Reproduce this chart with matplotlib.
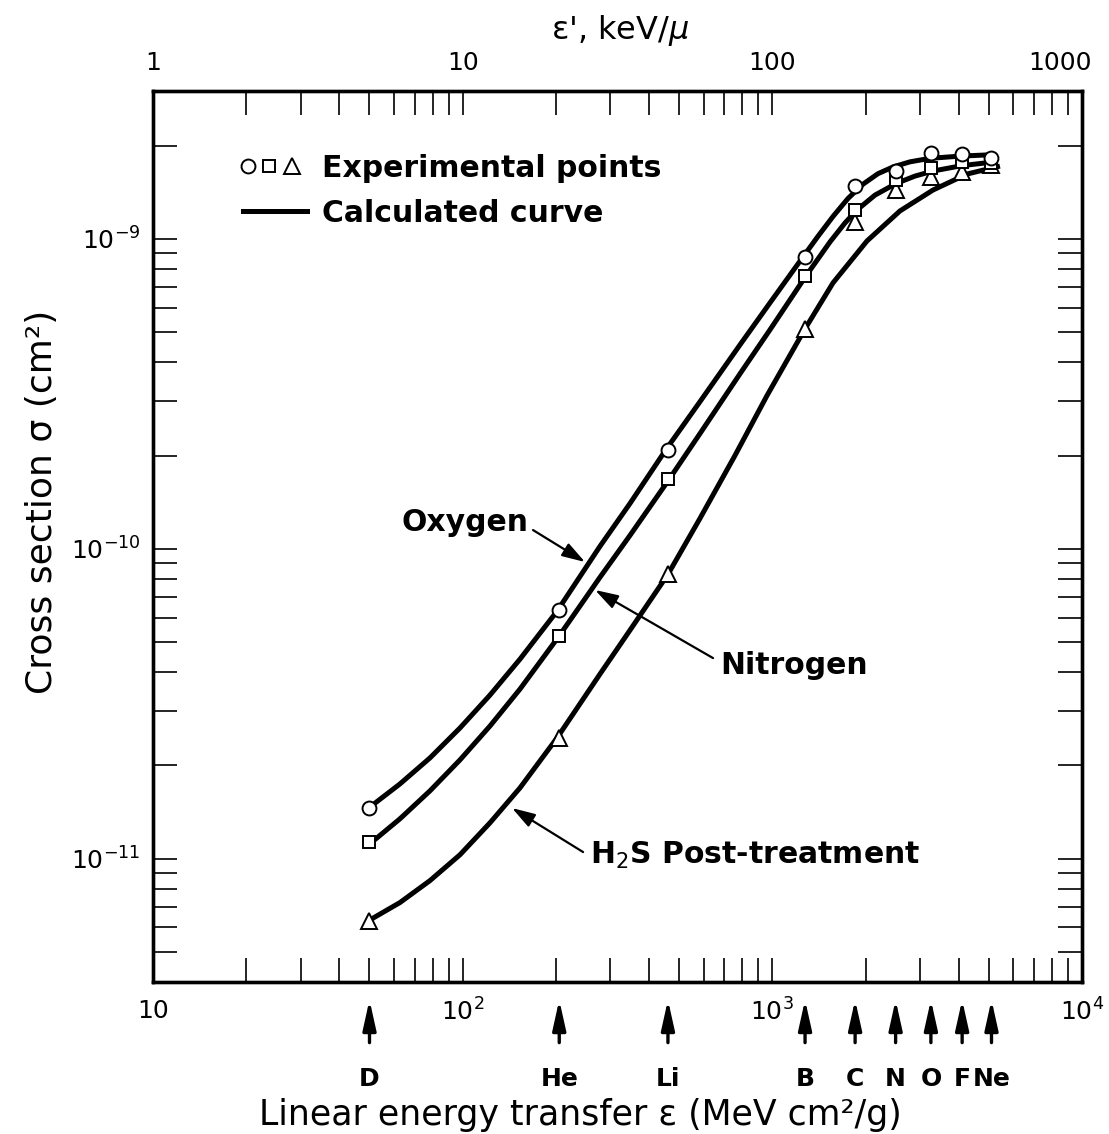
import matplotlib.pyplot as plt
import matplotlib.transforms as mtransforms
from matplotlib.ticker import FixedLocator, FixedFormatter, LogLocator, NullFormatter

plt.rcParams["font.family"] = ["DejaVu Sans"]

# bombarding ions and their linear energy transfer (MeV cm^2/g)
ions = ["D", "He", "Li", "B", "C", "N", "O", "F", "Ne"]
ion_let = [50, 205, 460, 1275, 1850, 2500, 3250, 4100, 5100]

# top axis: energy loss in keV per micron
top_ticks = [1, 10, 100, 1000]
top_labels = ["1", "10", "100", "1000"]

# measured inactivation cross sections (cm^2)
oxygen_pts = [1.46e-11, 6.35e-11, 2.09e-10, 8.75e-10, 1.48e-9, 1.66e-9, 1.89e-9, 1.88e-9, 1.82e-9]
nitrogen_pts = [1.13e-11, 5.23e-11, 1.68e-10, 7.6e-10, 1.24e-9, 1.55e-9, 1.69e-9, 1.77e-9, 1.76e-9]
h2s_pts = [6.3e-12, 2.45e-11, 8.28e-11, 5.13e-10, 1.13e-9, 1.44e-9, 1.58e-9, 1.64e-9, 1.73e-9]

# calculated curves
oxygen_curve_let = [49.8, 62.7, 78.4, 98.0, 122.5, 153.1, 201.6, 277.5, 346.9, 453.3, 583.8,
                    786.3, 982.3, 1256, 1404, 1570, 1755, 1962, 2193, 2452, 2782, 3228,
                    4036, 5157]
oxygen_curve = [1.46e-11, 1.743e-11, 2.115e-11, 2.642e-11, 3.374e-11, 4.406e-11, 6.29e-11,
                1.019e-10, 1.401e-10, 2.091e-10, 2.985e-10, 4.556e-10, 6.22e-10, 8.75e-10,
                1.02e-9, 1.182e-9, 1.351e-9, 1.502e-9, 1.624e-9, 1.707e-9, 1.773e-9, 1.82e-9,
                1.85e-9, 1.87e-9]

nitrogen_curve_let = [50.6, 62.7, 78.4, 98.0, 122.5, 153.1, 204.6, 277.5, 346.9, 463.6, 583.8,
                      786.3, 982.3, 1284, 1535, 1716, 1876, 2145, 2507, 2887, 3301, 4095,
                      5157]
nitrogen_curve = [1.126e-11, 1.345e-11, 1.656e-11, 2.084e-11, 2.681e-11, 3.527e-11, 5.226e-11,
                  8.094e-11, 1.105e-10, 1.674e-10, 2.355e-10, 3.674e-10, 5.092e-10, 7.6e-10,
                  9.78e-10, 1.126e-9, 1.24e-9, 1.385e-9, 1.509e-9, 1.595e-9, 1.656e-9,
                  1.724e-9, 1.77e-9]

h2s_curve_let = [49.8, 62.7, 78.4, 98.0, 122.5, 153.1, 201.6, 277.5, 346.9, 460.2, 583.8,
                 757.1, 960.7, 1275, 1570, 2021, 2582, 3301, 4249, 5430]
h2s_curve = [6.32e-12, 7.22e-12, 8.5e-12, 1.03e-11, 1.306e-11, 1.693e-11, 2.453e-11,
             3.943e-11, 5.463e-11, 8.28e-11, 1.254e-10, 2.0e-10, 3.122e-10, 5.13e-10,
             7.217e-10, 9.85e-10, 1.231e-9, 1.438e-9, 1.619e-9, 1.718e-9]

fig = plt.figure(figsize=(11.09, 11.34), dpi=100)
ax = fig.add_axes([0.138, 0.134, 0.8377, 0.7857])

lw_curve = 3.6
for xs, ys in [(oxygen_curve_let, oxygen_curve), (nitrogen_curve_let, nitrogen_curve),
               (h2s_curve_let, h2s_curve)]:
    ax.plot(xs, ys, color="k", lw=lw_curve, solid_capstyle="butt",
            solid_joinstyle="round", zorder=2)

mk = dict(ls="none", mfc="white", mec="k", mew=1.4, clip_on=False)
ax.plot(ion_let, h2s_pts, marker="^", ms=11.5, zorder=3, **mk)
ax.plot(ion_let, nitrogen_pts, marker="s", ms=9, zorder=3, **mk)
ax.plot(ion_let, oxygen_pts, marker="o", ms=10, zorder=3, **mk)

ax.set_xscale("log")
ax.set_yscale("log")
ax.set_xlim(10, 1e4)
ax.set_ylim(4e-12, 3e-9)

ax.xaxis.set_major_locator(FixedLocator([10, 100, 1000, 10000]))
ax.xaxis.set_major_formatter(FixedFormatter(["10", "10$^{2}$", "10$^{3}$", "10$^{4}$"]))
ax.xaxis.set_minor_locator(LogLocator(base=10, subs=range(2, 10), numticks=20))
ax.xaxis.set_minor_formatter(NullFormatter())
ax.yaxis.set_major_locator(FixedLocator([1e-11, 1e-10, 1e-9]))
ax.yaxis.set_major_formatter(FixedFormatter(["10$^{-11}$", "10$^{-10}$", "10$^{-9}$"]))
ax.yaxis.set_minor_locator(LogLocator(base=10, subs=range(2, 10), numticks=20))
ax.yaxis.set_minor_formatter(NullFormatter())
ax.tick_params(which="both", direction="in", length=17, width=1.2, top=False, right=True)
ax.tick_params(axis="x", which="major", labelsize=18, pad=12)
ax.tick_params(axis="y", which="major", labelsize=18, pad=9)
for s in ax.spines.values():
    s.set_linewidth(2.4)

# keV/micron scale along the top
ax2 = ax.twiny()
ax2.set_xscale("log")
ax2.set_xlim(1, 1000)
ax2.xaxis.set_major_locator(FixedLocator(top_ticks))
ax2.xaxis.set_major_formatter(NullFormatter())
ax2.xaxis.set_minor_locator(LogLocator(base=10, subs=range(2, 10), numticks=20))
ax2.xaxis.set_minor_formatter(NullFormatter())
ax2.tick_params(which="both", direction="in", length=17, width=1.2)
for s in ax2.spines.values():
    s.set_linewidth(2.4)
top_trans = mtransforms.blended_transform_factory(ax2.transData, ax2.transAxes)
for t, lab in zip(top_ticks, top_labels):
    ha = "right" if t == top_ticks[-1] else "center"
    off = mtransforms.ScaledTranslation(0.1 if ha == "right" else 0, 0, fig.dpi_scale_trans)
    ax2.text(t, 1.032, lab, transform=top_trans + off, ha=ha, va="center", fontsize=18)

# legend drawn by hand
ax.plot([0.1023], [0.9158], marker="o", ms=10, transform=ax.transAxes, **mk)
ax.plot([0.1249], [0.9158], marker="s", ms=9, transform=ax.transAxes, **mk)
ax.plot([0.1496], [0.9158], marker="^", ms=11.5, transform=ax.transAxes, **mk)
ax.plot([0.0969, 0.1658], [0.8653, 0.8653], color="k", lw=lw_curve, transform=ax.transAxes)
ax.text(0.182, 0.9136, "Experimental points", transform=ax.transAxes, fontsize=21.5,
        fontweight="bold", ha="left", va="center")
ax.text(0.182, 0.863, "Calculated curve", transform=ax.transAxes, fontsize=21.5,
        fontweight="bold", ha="left", va="center")

# curve labels
arrow = dict(arrowstyle="-|>,head_length=0.7,head_width=0.22", lw=1.6, color="k",
             mutation_scale=20, shrinkA=0, shrinkB=0)
ax.text(0.4037, 0.5163, "Oxygen", transform=ax.transAxes, fontsize=21.5, fontweight="bold",
        ha="right", va="center")
ax.annotate("", xy=(0.465, 0.4714), xytext=(0.409, 0.5073), xycoords="axes fraction",
            arrowprops=arrow)
ax.text(0.6103, 0.3558, "Nitrogen", transform=ax.transAxes, fontsize=21.5, fontweight="bold",
        ha="left", va="center")
ax.annotate("", xy=(0.4758, 0.44), xytext=(0.6028, 0.3636), xycoords="axes fraction",
            arrowprops=arrow)
ax.text(0.4704, 0.1425, "H$_2$S Post-treatment", transform=ax.transAxes, fontsize=21.5,
        fontweight="bold", ha="left", va="center")
ax.annotate("", xy=(0.3864, 0.1953), xytext=(0.4629, 0.1459), xycoords="axes fraction",
            arrowprops=arrow)

# ion markers below the axis
trans = mtransforms.blended_transform_factory(ax.transData, ax.transAxes)
ion_arrow = dict(arrowstyle="-|>,head_length=0.9,head_width=0.2", lw=2.4, color="k",
                 mutation_scale=20, shrinkA=0, shrinkB=0)
for name, let in zip(ions, ion_let):
    ax.annotate("", xy=(let, -0.02), xytext=(let, -0.068), xycoords=trans, textcoords=trans,
                arrowprops=ion_arrow, annotation_clip=False)
    ax.text(let, -0.109, name, transform=trans, ha="center", va="center", fontsize=18,
            fontweight="bold")

fig.text(0.523, 0.017, "Linear energy transfer ε (MeV cm²/g)", ha="center", va="center",
         fontsize=25)
fig.text(0.038, 0.557, "Cross section σ (cm²)", ha="center", va="center", rotation=90,
         fontsize=26)
fig.text(0.559, 0.9735, "ε', keV/$\\mu$", ha="center", va="center", fontsize=23)

fig.savefig("out.png", dpi=100)
